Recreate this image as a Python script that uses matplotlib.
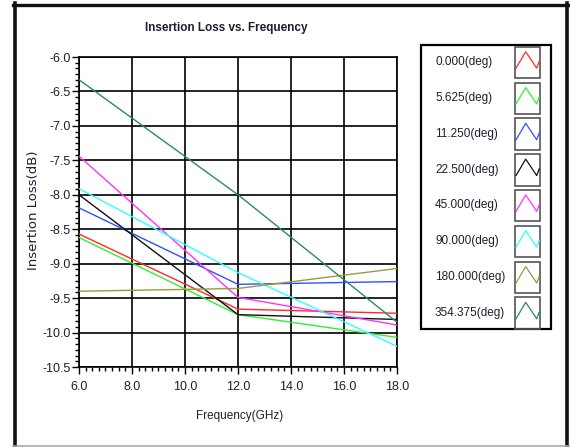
import matplotlib
matplotlib.use("Agg")
import matplotlib.pyplot as plt
from matplotlib.lines import Line2D
from matplotlib.patches import Rectangle
from matplotlib.ticker import AutoMinorLocator

# ---------------- data ----------------
freq = [6.0, 12.0, 18.0]

series_names = ["0.000(deg)", "5.625(deg)", "11.250(deg)", "22.500(deg)",
                "45.000(deg)", "90.000(deg)", "180.000(deg)", "354.375(deg)"]

loss_0 = [-8.57, -9.66, -9.72]
loss_5 = [-8.62, -9.74, -10.07]
loss_11 = [-8.19, -9.30, -9.26]
loss_22 = [-8.00, -9.74, -9.81]
loss_45 = [-7.44, -9.49, -9.89]
loss_90 = [-7.91, -9.13, -10.20]
loss_180 = [-9.40, -9.36, -9.07]
loss_354 = [-6.33, -8.00, -9.85]

x_ticks = [6, 8, 10, 12, 14, 16, 18]
y_ticks = [-6.0, -6.5, -7.0, -7.5, -8.0, -8.5, -9.0, -9.5, -10.0, -10.5]

colors = ["#ff2a2a", "#33ee33", "#3050ff", "#111111",
          "#ff33ff", "#33ffff", "#9c9a3a", "#2e8b5a"]

W, H = 570, 447
sans = ["Liberation Sans", "DejaVu Sans"]
txt_col = "#1e1e30"


def fx(px):
    return px / W


def fy(py):
    return 1 - py / H


fig = plt.figure(figsize=(W / 100, H / 100), dpi=100)
fig.patch.set_facecolor("white")

# ---------------- main plot ----------------
ax = fig.add_axes([fx(79), fy(367), fx(397) - fx(79), fy(57) - fy(367)])

all_loss = [loss_0, loss_5, loss_11, loss_22, loss_45, loss_90, loss_180, loss_354]
for vals, c in zip(all_loss, colors):
    ax.plot(freq, vals, color=c, lw=1.0, zorder=3)

ax.set_xlim(6, 18)
ax.set_ylim(-10.5, -6.0)
ax.xaxis.set_minor_locator(AutoMinorLocator(8))
ax.yaxis.set_minor_locator(AutoMinorLocator(6))
ax.grid(True, which="major", color="black", lw=1.2, zorder=1)
for s in ax.spines.values():
    s.set_color("black")
    s.set_linewidth(1.2)

ax.tick_params(which="major", direction="out", length=5, width=1, color="black",
               labelsize=9, labelcolor=txt_col, pad=1)
ax.tick_params(which="minor", direction="out", length=3, width=1, color="black")
ax.tick_params(axis="x", which="major", pad=5)
ax.set_xticks(x_ticks)
ax.set_xticklabels([f"{v:.1f}" for v in x_ticks])
ax.set_yticks(y_ticks)
ax.set_yticklabels([f"{v:.1f}" for v in y_ticks])
for lab in ax.get_xticklabels() + ax.get_yticklabels():
    lab.set_family(sans)

fig.text(fx(226), fy(28), "Insertion Loss vs. Frequency", ha="center", va="center",
         fontsize=8.5, fontweight="bold", family=sans, color=txt_col)
fig.text(fx(240), fy(416), "Frequency(GHz)", ha="center", va="center",
         fontsize=8.5, family=sans, color=txt_col)
fig.text(fx(33), fy(210), "Insertion Loss(dB)", ha="center", va="center",
         rotation=90, fontsize=9.5, family="DejaVu Sans", color=txt_col)

# ---------------- legend ----------------
lg = fig.add_axes([0, 0, 1, 1], facecolor="none")
lg.set_xlim(0, W)
lg.set_ylim(H, 0)
lg.axis("off")
lg.add_patch(Rectangle((421, 44.5), 130, 284.5, fill=False, ec="black", lw=1.6))

row_gap = 35.8
bw, bh = 25.5, 31.5
for i, (name, c) in enumerate(zip(series_names, colors)):
    top = 46.7 + i * row_gap
    lg.text(435, top + 15.5, name, ha="left", va="center", fontsize=8.5,
            family=sans, color=txt_col)
    lg.add_patch(Rectangle((514.5, top), bw, bh, fill=False, ec="#555555", lw=1.2))
    zx = [514.5 + bw * f for f in [0.06, 0.44, 0.87, 0.97]]
    zy = [top + bh * f for f in [0.68, 0.16, 0.68, 0.47]]
    lg.plot(zx, zy, color=c, lw=0.9)

# ---------------- outer frame ----------------
lg.add_line(Line2D([14.5, 14.5], [3, H], color="#111111", lw=2.6))
lg.add_line(Line2D([13, W], [4.8, 4.8], color="#111111", lw=2.4))
lg.add_line(Line2D([567.3, 567.3], [3, H], color="#111111", lw=2.6))
lg.add_line(Line2D([13, W], [446.3, 446.3], color="#aaaaaa", lw=1.2))

fig.savefig("out.png", dpi=100)
